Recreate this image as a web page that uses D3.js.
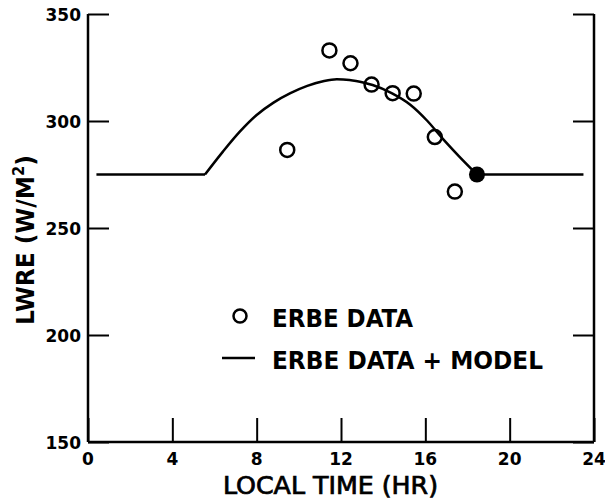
<!DOCTYPE html>
<html><head><meta charset="utf-8">
<script src="https://cdn.jsdelivr.net/npm/d3@7/dist/d3.min.js"></script>
<style>body{margin:0;background:#fff}svg{display:block}</style>
</head><body>
<svg id="c" width="605" height="500"></svg>
<script>
const xTicks = [0, 4, 8, 12, 16, 20, 24];
const yTicks = [150, 200, 250, 300, 350];
// ERBE data (open circles)
const erbeHour = [9.45, 11.45, 12.45, 13.45, 14.45, 15.45, 16.45, 17.4];
const erbeLwre = [286.5, 333, 327, 317, 313, 312.8, 292.5, 267];
// Model point (filled)
const modelPoint = [18.45, 275];
// ERBE data + model curve
const curveHour = [5.55, 6.4, 7.2, 8.0, 8.8, 9.6, 10.4, 11.2, 11.8, 12.4, 13.1, 13.5, 14.4, 15.3, 16.1, 16.8, 17.6, 18.45];
const curveLwre = [275, 285.7, 295, 302.8, 308.6, 313, 316.4, 318.7, 319.5, 319.2, 317.9, 316.8, 313, 307.5, 300, 292, 283.5, 275];
const flatLeft = [[0.4, 275], [5.55, 275]];
const flatRight = [[18.45, 275], [23.5, 275]];

const svg = d3.select("#c");
const x = d3.scaleLinear().domain([0, 24]).range([88, 594]);
const y = d3.scaleLinear().domain([150, 350]).range([442, 14]);
const col = "#000";

// axes
const g = svg.append("g");
g.append("g").attr("transform", `translate(0,${y(150)})`)
  .call(d3.axisBottom(x).tickValues(xTicks).tickSize(-24).tickPadding(0).tickFormat(""))
  .call(a => { a.select(".domain").attr("stroke-width", 2.5).attr("d", `M${x(0)},0H${x(24)}`); a.selectAll("line").attr("stroke-width", 2); });
g.append("g").attr("transform", `translate(${x(0)},0)`)
  .call(d3.axisLeft(y).tickValues(yTicks).tickSize(-21).tickFormat(""))
  .call(a => { a.select(".domain").attr("stroke-width", 2.5).attr("d", `M0,${y(350)}V${y(150)}`); a.selectAll("line").attr("stroke-width", 2); });
g.append("g").attr("transform", `translate(${x(24)},0)`)
  .call(d3.axisRight(y).tickValues(yTicks).tickSize(-21).tickFormat(""))
  .call(a => { a.select(".domain").attr("stroke-width", 2.5).attr("d", `M0,${y(350)}V${y(150)}`); a.selectAll("line").attr("stroke-width", 2); });

// tick labels
const tf = "'DejaVu Sans', sans-serif";
svg.append("g").selectAll("text").data(xTicks).join("text")
  .attr("x", d => x(d)).attr("y", 465).attr("text-anchor", "middle")
  .attr("font-family", tf).attr("font-weight", "bold").attr("font-size", 17).text(d => d);
svg.append("g").selectAll("text").data(yTicks).join("text")
  .attr("x", 81).attr("y", d => y(d) + 6.5).attr("text-anchor", "end")
  .attr("font-family", tf).attr("font-weight", "bold").attr("font-size", 17).text(d => d);

// axis titles
const cf = "'DejaVu Sans Condensed', 'DejaVu Sans', sans-serif";
svg.append("text").attr("x", 223).attr("y", 494).attr("font-family", cf).attr("font-size", 25)
  .attr("stroke", col).attr("stroke-width", 0.7)
  .attr("textLength", 215).attr("lengthAdjust", "spacingAndGlyphs").text("LOCAL TIME (HR)");
const yl = svg.append("text").attr("transform", "translate(34,325) rotate(-90)")
  .attr("font-family", cf).attr("font-weight", "bold").attr("font-size", 24)
  .attr("textLength", 170).attr("lengthAdjust", "spacingAndGlyphs");
yl.append("tspan").text("LWRE (W/M");
yl.append("tspan").attr("font-size", 15).attr("dy", -10).text("2");
yl.append("tspan").attr("dy", 10).text(")");

// model line
const pts = curveHour.map((h, i) => [h, curveLwre[i]]);
const lineC = d3.line().x(d => x(d[0])).y(d => y(d[1])).curve(d3.curveMonotoneX);
const lineL = d3.line().x(d => x(d[0])).y(d => y(d[1]));
svg.append("path").attr("d", lineC(pts)).attr("fill", "none").attr("stroke", col).attr("stroke-width", 2.5);
svg.append("path").attr("d", lineL(flatLeft)).attr("fill", "none").attr("stroke", col).attr("stroke-width", 2.5);
svg.append("path").attr("d", lineL(flatRight)).attr("fill", "none").attr("stroke", col).attr("stroke-width", 2.5);

// data circles
svg.append("g").selectAll("circle").data(erbeHour.map((h, i) => [h, erbeLwre[i]])).join("circle")
  .attr("cx", d => x(d[0])).attr("cy", d => y(d[1])).attr("r", 7)
  .attr("fill", "none").attr("stroke", col).attr("stroke-width", 2.5);
svg.append("circle").attr("cx", x(modelPoint[0])).attr("cy", y(modelPoint[1])).attr("r", 8).attr("fill", col);

// legend
svg.append("circle").attr("cx", 240).attr("cy", 316).attr("r", 6.5).attr("fill", "#fff").attr("stroke", col).attr("stroke-width", 2.5);
svg.append("text").attr("x", 272).attr("y", 327).attr("font-family", cf).attr("font-weight", "bold").attr("font-size", 25)
  .attr("textLength", 141).attr("lengthAdjust", "spacingAndGlyphs").text("ERBE DATA");
svg.append("line").attr("x1", 222).attr("x2", 255).attr("y1", 358).attr("y2", 358).attr("stroke", col).attr("stroke-width", 2.5);
svg.append("text").attr("x", 272).attr("y", 369).attr("font-family", cf).attr("font-weight", "bold").attr("font-size", 25)
  .attr("textLength", 271).attr("lengthAdjust", "spacingAndGlyphs").text("ERBE DATA + MODEL");
</script>
</body></html>
